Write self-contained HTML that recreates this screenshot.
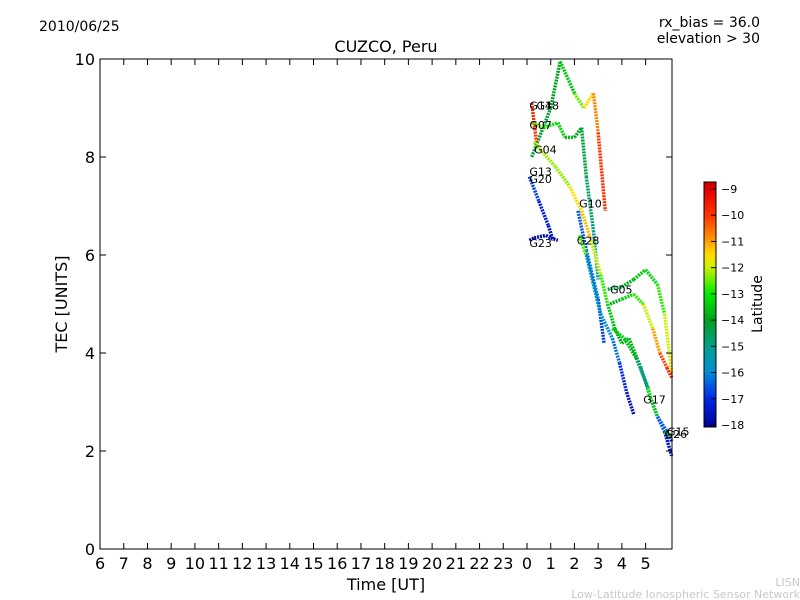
<!DOCTYPE html>
<html><head><meta charset="utf-8"><style>
body{margin:0;background:#fff;}
svg{display:block;font-family:"DejaVu Sans","Liberation Sans",sans-serif;}
</style></head><body>
<svg id="c" width="800" height="600" xmlns="http://www.w3.org/2000/svg">
<rect width="800" height="600" fill="#fff"/>
<text x="39" y="31" font-size="14">2010/06/25</text>
<text x="386" y="52" font-size="16" text-anchor="middle">CUZCO, Peru</text>
<text x="760" y="27" font-size="14" text-anchor="end">rx_bias = 36.0</text>
<text x="760" y="43" font-size="14" text-anchor="end">elevation &gt; 30</text>
<text x="386" y="590" font-size="16" text-anchor="middle">Time [UT]</text>
<text x="67" y="304" font-size="16" text-anchor="middle" transform="rotate(-90 67 304)">TEC [UNITS]</text>
<text x="800" y="586" font-size="11" fill="#c8c8c8" text-anchor="end">LISN</text>
<text x="800" y="598" font-size="11" fill="#c8c8c8" text-anchor="end">Low-Latitude Ionospheric Sensor Network</text>
<defs><linearGradient id="jet" x1="0" y1="1" x2="0" y2="0" id2="g"></linearGradient></defs>
<g id="plot"></g>
<rect x="704" y="182" width="12" height="245" fill="url(#jet)" stroke="#000"/>
<text x="762" y="304" font-size="14" text-anchor="middle" transform="rotate(-90 762 304)">Latitude</text>
<g id="cbt"></g>
</svg>
<script>
const xTicks=[6,7,8,9,10,11,12,13,14,15,16,17,18,19,20,21,22,23,24,25,26,27,28,29];
const xTickLabels=["6","7","8","9","10","11","12","13","14","15","16","17","18","19","20","21","22","23","0","1","2","3","4","5"];
const yTicks=[0,2,4,6,8,10];
const cbTicks=[-9,-10,-11,-12,-13,-14,-15,-16,-17,-18];
const trackNames=["G18","G14","G07","G04","G20","G23","G10","G28","G05a","G05b","G17","G15"];
const trackHours=[
[24.2,25.0,25.4,26.0,26.4,26.8,27.0,27.3],
[24.2,24.3,24.4],
[24.15,24.7,25.3,25.6,26.0,26.3,26.5,26.8,27.0],
[24.3,25.2,25.8,26.3,26.7,27.1,27.4,27.7,28.0,28.3,28.8,29.2,29.5,29.8,30.1],
[24.1,24.5,24.9,25.1],
[24.1,24.3,24.8,25.0,25.3],
[26.15,26.5,27.0,27.25],
[26.2,26.5,27.1,27.6,27.9,28.2,28.5],
[27.4,28.0,28.5,29.0,29.5,29.8,30.0,30.1],
[27.5,28.0,28.5,28.9,29.3,29.6,29.9,30.1],
[27.6,28.1,28.6,29.1,29.2,29.5,29.9,30.1],
[29.8,30.1]];
const trackTec=[
[8.0,9.0,9.95,9.3,9.0,9.3,8.5,6.9],
[9.1,8.7,8.3],
[8.7,8.6,8.7,8.4,8.4,8.6,7.6,6.5,5.5],
[8.3,7.8,7.4,6.9,6.3,5.6,5.0,4.5,4.2,4.3,3.7,3.1,2.7,2.4,1.9],
[7.6,7.1,6.6,6.3],
[6.3,6.35,6.4,6.35,6.3],
[6.9,6.1,5.1,4.2],
[6.4,6.0,4.8,4.3,3.8,3.2,2.75],
[5.3,5.35,5.5,5.7,5.4,4.8,4.0,3.6],
[5.0,5.1,5.2,5.0,4.5,4.0,3.7,3.5],
[4.5,4.3,3.9,3.3,3.1,2.7,2.4,2.2],
[2.4,2.3]];
const trackLat=[
[-14.5,-14,-14,-13,-12,-11,-10.5,-9.5],
[-9.5,-10,-10],
[-12,-13,-13,-13.5,-14,-14,-14.5,-15,-15.5],
[-12,-12.5,-12,-11,-11.5,-12.5,-13,-14,-14,-13,-14.5,-15.5,-16,-17,-18],
[-16.5,-17,-17.5,-17.8],
[-17.8,-17.8,-17.8,-17.8,-17.8],
[-17,-16,-16.5,-17],
[-9.8,-15.5,-16,-16,-16.5,-17.5,-17.8],
[-14.5,-14,-13.5,-13.5,-13,-12.5,-11.5,-12],
[-14,-13.5,-13,-12.5,-11.5,-10.5,-9.8,-9.5],
[-13.5,-13,-14.5,-15,-11,-16,-17,-17.5],
[-13.5,-14]];
const labelNames=["G14","G18","G07","G04","G13","G20","G23","G10","G28","G05","G17","G15","G26"];
const labelHours=[24.1,24.4,24.1,24.3,24.1,24.1,24.1,26.2,26.1,27.5,28.9,29.9,29.8];
const labelTec=[9.05,9.05,8.65,8.15,7.7,7.55,6.25,7.05,6.3,5.3,3.05,2.4,2.35];

const X0=100,X1=672,Y0=59,Y1=549;
const xs=h=>527+(h-24)*23.72;
const ys=v=>Y1-(v/10)*(Y1-Y0);
const cby=l=>189+(-9-l)*26.22;
const cmLat=[-18.1,-17,-16,-15,-14,-13,-12,-11.5,-11,-10,-9,-8.7];
const cmCol=[[0,0,150],[0,40,230],[0,140,215],[0,160,140],[0,160,30],[0,235,0],[200,240,0],[255,220,0],[255,160,0],[255,50,0],[225,0,0],[200,0,0]];
function jet(l){
 if(l<=cmLat[0])return `rgb(${cmCol[0]})`;
 for(let i=0;i<cmLat.length-1;i++){if(l<=cmLat[i+1]){const t=(l-cmLat[i])/(cmLat[i+1]-cmLat[i]);const c=cmCol[i].map((v,k)=>Math.round(v+(cmCol[i+1][k]-v)*t));return `rgb(${c})`;}}
 return `rgb(${cmCol[cmCol.length-1]})`;
}
const NS="http://www.w3.org/2000/svg";
const grad=document.getElementById('jet');
cmLat.forEach((l,i)=>{const s=document.createElementNS(NS,'stop');s.setAttribute('offset',Math.max(0,Math.min(1,(l+18.08)/(18.08-8.73))));s.setAttribute('stop-color',`rgb(${cmCol[i]})`);grad.appendChild(s);});
const plot=document.getElementById('plot');
function mk(tag,at,parent){const e=document.createElementNS(NS,tag);for(const k in at)e.setAttribute(k,at[k]);(parent||plot).appendChild(e);return e;}
trackNames.forEach((n,i)=>{
 const g=mk('g',{});
 
 
 for(let j=0;j<trackHours[i].length-1;j++){
  const s=mk('line',{x1:xs(trackHours[i][j]),y1:ys(trackTec[i][j]),x2:xs(trackHours[i][j+1]),y2:ys(trackTec[i][j+1]),stroke:jet((trackLat[i][j]+trackLat[i][j+1])/2),'stroke-width':3.5,'stroke-dasharray':'2 1'},g);
  
  
 }
});
labelNames.forEach((n,i)=>{
 const t=mk('text',{x:xs(labelHours[i]),y:ys(labelTec[i])+4,'font-size':11});
 t.textContent=n;
 
 
});
const fr=mk('rect',{x:X0,y:Y0,width:X1-X0,height:Y1-Y0,fill:'none',stroke:'#000','stroke-width':1});


xTicks.forEach((v,i)=>{
 const x=xs(v);
 mk('line',{x1:x,y1:Y1,x2:x,y2:Y1-6,stroke:'#000'});
 mk('line',{x1:x,y1:Y0,x2:x,y2:Y0+6,stroke:'#000'});
 const t=mk('text',{x:x,y:Y1+20,'font-size':16,'text-anchor':'middle'});
 t.textContent=xTickLabels[i];
 
 
});
yTicks.forEach(v=>{
 const y=ys(v);
 mk('line',{x1:X0,y1:y,x2:X0+6,y2:y,stroke:'#000'});
 mk('line',{x1:X1,y1:y,x2:X1-6,y2:y,stroke:'#000'});
 const t=mk('text',{x:X0-5,y:y+6,'font-size':16,'text-anchor':'end'});
 t.textContent=v;
 
 
});
const cbt=document.getElementById('cbt');
cbTicks.forEach(v=>{
 const y=cby(v);
 mk('line',{x1:716,y1:y,x2:711,y2:y,stroke:'#000'},cbt);
 const t=mk('text',{x:721,y:y+4,'font-size':11},cbt);
 t.textContent='\u2212'+Math.abs(v);
 
 
});
</script>
</body></html>
